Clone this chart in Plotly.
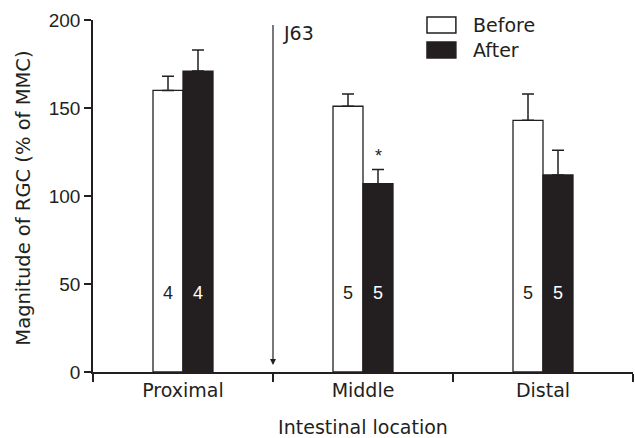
import plotly.graph_objects as go

categories = ["Proximal", "Middle", "Distal"]
before_vals = [160, 151, 143]
before_err = [8, 7, 15]
after_vals = [171, 107, 112]
after_err = [12, 8, 14]
before_n = ["4", "5", "5"]
after_n = ["4", "5", "5"]
series_names = ["Before", "After"]
y_ticks = [0, 50, 100, 150, 200]
y_title = "Magnitude of RGC (% of MMC)"
x_title = "Intestinal location"

INK = "#231f20"
WORD_FONT = "DejaVu Sans, sans-serif"
NUM_FONT = "Liberation Sans, Arial, sans-serif"

fig = go.Figure()
fig.add_trace(go.Bar(
    x=categories, y=before_vals, name=series_names[0],
    marker=dict(color="white", line=dict(color=INK, width=1.3)),
    error_y=dict(type="data", array=before_err, arrayminus=[0]*3, symmetric=False,
                 color=INK, thickness=1.5, width=6),
))
fig.add_trace(go.Bar(
    x=categories, y=after_vals, name=series_names[1],
    marker=dict(color=INK, line=dict(color=INK, width=1.3)),
    error_y=dict(type="data", array=after_err, arrayminus=[0]*3, symmetric=False,
                 color=INK, thickness=1.5, width=6),
))

annotations = []
for i in range(3):
    annotations.append(dict(x=i - 1/12, y=45, xref="x", yref="y", text=before_n[i],
                            showarrow=False, font=dict(size=18, color=INK, family=NUM_FONT)))
    annotations.append(dict(x=i + 1/12, y=45, xref="x", yref="y", text=after_n[i],
                            showarrow=False, font=dict(size=18, color="white", family=NUM_FONT)))
# significance star over Middle/After
annotations.append(dict(x=1 + 1/12, y=123, xref="x", yref="y",
                        text="*", showarrow=False, font=dict(size=18, color=INK, family=NUM_FONT)))
# J63 arrow
annotations.append(dict(x=0.5, y=4, ax=0.5, ay=198, xref="x", yref="y", axref="x", ayref="y",
                        text="", showarrow=True, arrowhead=2, arrowsize=1, arrowwidth=1.2,
                        arrowcolor=INK))
annotations.append(dict(x=0.545, y=192.5, xref="x", yref="y", text="J63", xanchor="left",
                        yanchor="middle", showarrow=False,
                        font=dict(size=19, color=INK, family=WORD_FONT)))
# y-axis title
annotations.append(dict(x=-0.128, y=0.495, xref="paper", yref="paper", text=y_title,
                        textangle=-90, xanchor="center", yanchor="middle", showarrow=False,
                        font=dict(size=19.5, color=INK, family=WORD_FONT)))
# legend
shapes = []
leg_rows = [(1.0085, 0.963, "white"), (0.9375, 0.892, INK)]
for (y1, y0, col), name in zip(leg_rows, series_names):
    shapes.append(dict(type="rect", xref="paper", yref="paper", x0=0.6185, x1=0.672,
                       y0=y0, y1=y1, fillcolor=col, line=dict(color=INK, width=1.5)))
    annotations.append(dict(x=0.700, y=(y0 + y1) / 2, xref="paper", yref="paper", text=name,
                            xanchor="left", yanchor="middle", showarrow=False,
                            font=dict(size=19, color=INK, family=WORD_FONT)))

fig.update_layout(
    width=635, height=438,
    margin=dict(l=93, r=2, t=20, b=66),
    paper_bgcolor="white", plot_bgcolor="white",
    barmode="group", bargap=2/3, bargroupgap=0,
    showlegend=False,
    font=dict(family=WORD_FONT, size=19, color=INK),
    annotations=annotations, shapes=shapes,
)
fig.update_xaxes(
    type="category", range=[-0.5, 2.5], tickson="boundaries", automargin=False,
    ticks="outside", ticklen=8, tickwidth=1.5, tickcolor=INK,
    showline=True, linecolor=INK, linewidth=1.5, showgrid=False,
    title=dict(text=x_title, standoff=23, font=dict(size=19, family=WORD_FONT)),
    tickfont=dict(size=19, family=WORD_FONT),
)
fig.update_yaxes(
    range=[0, 200], tickvals=y_ticks, ticks="outside", ticklen=7, tickwidth=1.5,
    tickcolor=INK, showline=True, linecolor=INK, linewidth=1.5, showgrid=False,
    zeroline=False, automargin=False,
    tickfont=dict(size=19, family=NUM_FONT),
)
fig.write_html("out.html")
